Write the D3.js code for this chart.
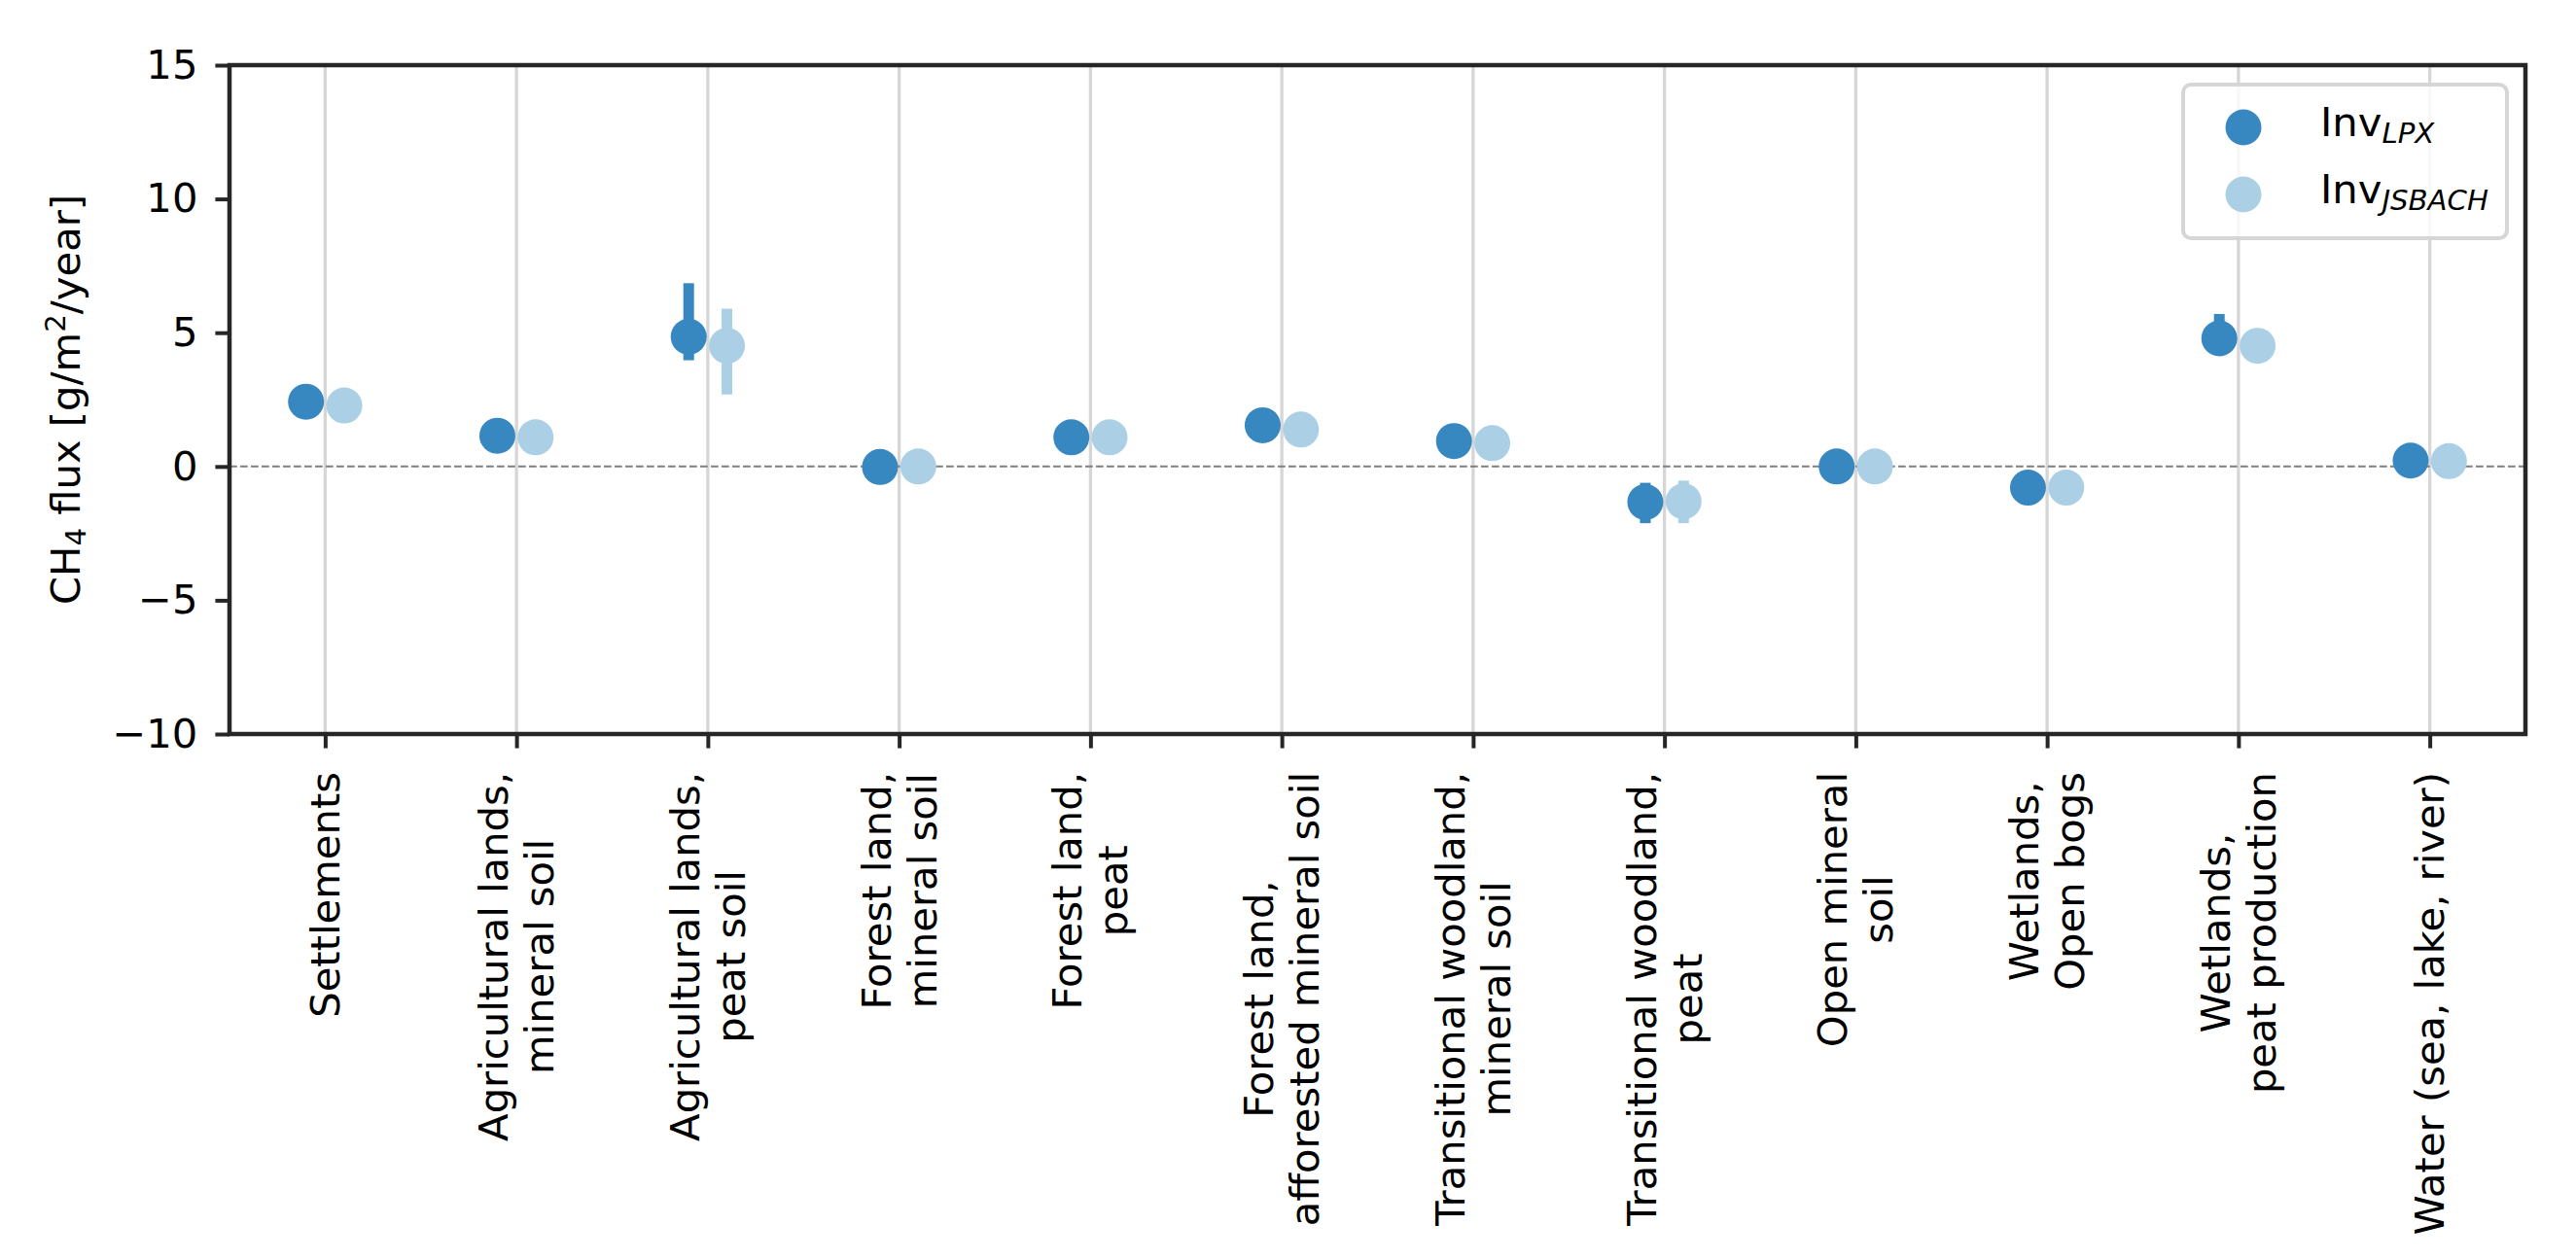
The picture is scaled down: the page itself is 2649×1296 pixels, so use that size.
<!DOCTYPE html>
<html>
<head>
<meta charset="utf-8">
<script src="https://cdn.jsdelivr.net/npm/d3@7"></script>
<style>
  html, body { margin: 0; padding: 0; background: #fff; }
  svg { display: block; }
  text { font-family: "DejaVu Sans", sans-serif; fill: #000; }
</style>
</head>
<body>
<svg id="chart" width="2649" height="1296"></svg>
<script>
// ---------------- DATA ----------------
const categories = [
  "Settlements",
  "Agricultural lands,\nmineral soil",
  "Agricultural lands,\npeat soil",
  "Forest land,\nmineral soil",
  "Forest land,\npeat",
  "Forest land,\nafforested mineral soil",
  "Transitional woodland,\nmineral soil",
  "Transitional woodland,\npeat",
  "Open mineral\nsoil",
  "Wetlands,\nOpen bogs",
  "Wetlands,\npeat production",
  "Water (sea, lake, river)"
];
const seriesNames = ["LPX", "JSBACH"];
const lpxMean = [2.42, 1.15, 4.85, -0.02, 1.09, 1.54, 0.95, -1.33, 0.00, -0.79, 4.79, 0.22];
const lpxLow  = [2.20, 1.00, 3.97, -0.10, 1.00, 1.45, 0.85, -2.12, -0.05, -0.90, 4.60, 0.15];
const lpxHigh = [2.70, 1.30, 6.85, 0.05, 1.20, 1.65, 1.05, -0.61, 0.05, -0.70, 5.70, 0.30];
const jsbMean = [2.28, 1.09, 4.51, 0.00, 1.09, 1.38, 0.87, -1.30, 0.00, -0.79, 4.51, 0.20];
const jsbLow  = [2.10, 1.00, 2.69, -0.05, 1.00, 1.30, 0.80, -2.12, -0.05, -0.90, 4.40, 0.15];
const jsbHigh = [2.45, 1.20, 5.90, 0.05, 1.20, 1.50, 0.95, -0.53, 0.05, -0.70, 4.65, 0.25];
const yTicks = [-10, -5, 0, 5, 10, 15];
const yDomain = [-10, 15];

// ---------------- LAYOUT / STYLE ----------------
const colors = ["#3787c0", "#abd0e6"];
const fs = 41.7;
const plot = { left: 236, right: 2597, top: 67, bottom: 755 };
const dotR = 18.5;
const errW = 11;
const tickLen = 14.6;
const spineColor = "#262626";

const svg = d3.select("#chart");

const x = d3.scalePoint().domain(categories).range([plot.left, plot.right]).padding(0.5);
const y = d3.scaleLinear().domain(yDomain).range([plot.bottom, plot.top]);
const dodge = x.step() * 0.1;

// grid lines (vertical)
svg.append("g").selectAll("line").data(categories).join("line")
  .attr("x1", d => x(d)).attr("x2", d => x(d))
  .attr("y1", plot.top).attr("y2", plot.bottom)
  .attr("stroke", "#d6d6d6").attr("stroke-width", 3.3);

// zero line
svg.append("line")
  .attr("x1", plot.left).attr("x2", plot.right)
  .attr("y1", y(0)).attr("y2", y(0))
  .attr("stroke", "#7f7f7f").attr("stroke-width", 2.1)
  .attr("stroke-dasharray", "7.7,3.3");

// series
const series = [
  { name: "LPX", mean: lpxMean, lo: lpxLow, hi: lpxHigh, color: colors[0], off: -dodge },
  { name: "JSBACH", mean: jsbMean, lo: jsbLow, hi: jsbHigh, color: colors[1], off: dodge }
];
series.forEach(s => {
  const g = svg.append("g");
  g.selectAll("line").data(categories).join("line")
    .attr("x1", (d) => x(d) + s.off).attr("x2", (d) => x(d) + s.off)
    .attr("y1", (d, i) => y(s.lo[i])).attr("y2", (d, i) => y(s.hi[i]))
    .attr("stroke", s.color).attr("stroke-width", errW);
  g.selectAll("circle").data(categories).join("circle")
    .attr("cx", (d) => x(d) + s.off)
    .attr("cy", (d, i) => y(s.mean[i]))
    .attr("r", dotR).attr("fill", s.color);
});

// y axis
const yAxis = svg.append("g").attr("transform", `translate(${plot.left},0)`)
  .call(d3.axisLeft(y).tickValues(yTicks).tickSize(tickLen).tickPadding(18).tickFormat(d3.format("d")));
yAxis.select(".domain").remove();
yAxis.selectAll(".tick line").attr("stroke", spineColor).attr("stroke-width", 4);
yAxis.selectAll(".tick text").style("font-size", fs + "px").style("font-family", "DejaVu Sans").attr("fill", "#000");

// x axis ticks
const xAxis = svg.append("g").attr("transform", `translate(0,${plot.bottom})`)
  .call(d3.axisBottom(x).tickSize(tickLen).tickFormat(""));
xAxis.select(".domain").remove();
xAxis.selectAll(".tick line").attr("stroke", spineColor).attr("stroke-width", 4);

// x tick labels (rotated, multi-line centered)
const labelTop = 794;
const lineSp = 47;
categories.forEach(cat => {
  const lines = cat.split("\n");
  const n = lines.length;
  const g = svg.append("g");
  const texts = lines.map((ln, i) => {
    const bx = x(cat) + (i - (n - 1) / 2) * lineSp + 14.6;
    return g.append("text").text(ln).style("font-size", fs + "px")
      .attr("text-anchor", "middle").attr("data-bx", bx);
  });
  const L = d3.max(texts, t => t.node().getComputedTextLength());
  texts.forEach(t => {
    const bx = +t.attr("data-bx");
    const cy = labelTop + L / 2;
    t.attr("transform", `translate(${bx},${cy}) rotate(-90)`);
  });
});

// spines
svg.append("rect")
  .attr("x", plot.left).attr("y", plot.top)
  .attr("width", plot.right - plot.left).attr("height", plot.bottom - plot.top)
  .attr("fill", "none").attr("stroke", spineColor).attr("stroke-width", 4.5);

// y label
const yl = svg.append("text")
  .attr("transform", `translate(82,${(plot.top + plot.bottom) / 2}) rotate(-90)`)
  .attr("text-anchor", "middle").style("font-size", fs + "px");
yl.append("tspan").text("CH");
yl.append("tspan").text("4").style("font-size", (fs * 0.7) + "px").attr("dy", 6);
yl.append("tspan").text(" flux [g/m").attr("dy", -6);
yl.append("tspan").text("2").style("font-size", (fs * 0.7) + "px").attr("dy", -15);
yl.append("tspan").text("/year]").attr("dy", 15);

// legend
const leg = svg.append("g");
leg.append("rect").attr("x", 2245).attr("y", 87).attr("width", 333).attr("height", 158)
  .attr("rx", 8).attr("fill", "#fff").attr("fill-opacity", 0.8)
  .attr("stroke", "#d6d6d6").attr("stroke-width", 4);
series.forEach((s, i) => {
  const cy = 131 + i * 69;
  leg.append("circle").attr("cx", 2307).attr("cy", cy).attr("r", dotR).attr("fill", s.color);
  const t = leg.append("text").attr("x", 2386).attr("y", cy + 9).style("font-size", fs + "px");
  t.append("tspan").text("Inv");
  t.append("tspan").text(s.name).style("font-size", (fs * 0.7) + "px")
    .style("font-style", "italic").attr("dy", 7);
});
</script>
</body>
</html>
